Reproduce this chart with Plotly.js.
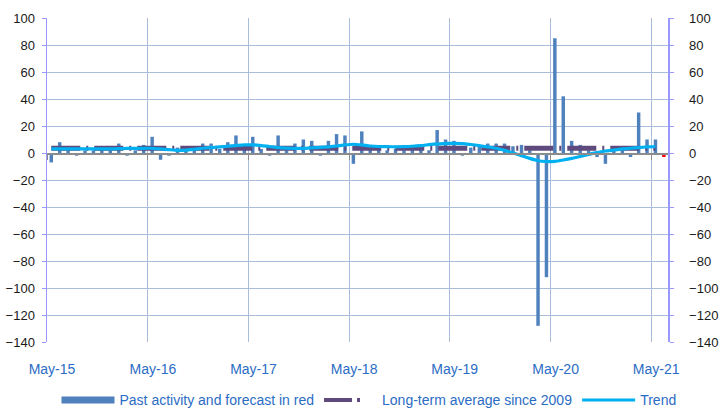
<!DOCTYPE html>
<html>
<head>
<meta charset="utf-8">
<script src="https://cdn.plot.ly/plotly-3.0.1.min.js"></script>
<style>html,body{margin:0;padding:0;background:#fff;}#chart{width:723px;height:410px;}</style>
</head>
<body>
<div id="chart"></div>
<script>
// Monthly series, starting May 2015
const startYear = 2015;
const startMonth = 5;

// Past activity (May-15 .. May-21)
const pastActivity = [
  -7, 8, 2, -2, 2, 2, 3, 2, 7, -2, 2, 6,          // May-15 .. Apr-16
  12, -5, -2, 4, 5, 5, 7, 7, 3, 8, 13, 3,          // May-16 .. Apr-17
  12, 3, -2, 13, 2, 7, 10, 9, -2, 9, 14, 13,       // May-17 .. Apr-18
  -8, 16, 3, 4, 2, 3, 2, 3, 4, 2, 17, 10,          // May-18 .. Apr-19
  9, -2, 4, 5, 7, 7, 7, 5, 6, 2, -128, -92,        // May-19 .. Apr-20
  85, 42, 9, 6, 2, -3, -8, 5, 2, -3, 30, 10,       // May-20 .. Apr-21
  10                                               // May-21
];
// Forecast (Jun-21), drawn in red
const forecastValue = [-3];

// Trend
const trend = [
  3, 3, 3, 3, 3, 3, 3, 3, 3.2, 3.4, 3.5, 3.5,
  3.5, 3, 2.5, 2, 2.2, 2.8, 3.5, 4, 4.5, 5, 5.5, 6,
  6, 5.5, 4.8, 4, 3.6, 3.5, 3.5, 3.8, 4.2, 4.5, 5.2, 6,
  6.5, 6, 5.2, 4.8, 4.7, 4.6, 4.7, 5, 5.5, 6.2, 6.8, 7,
  7.2, 7, 6.3, 5.5, 4.5, 3.5, 2, 0, -2, -4, -5.7, -6.3,
  -6.2, -5.2, -4, -2.5, -1, 0.3, 1.5, 2.2, 3, 3.5, 4, 4.5,
  4.8
];

// Long-term average since 2009
const longTermAverage = 3.6;

const seriesNames = ['Past activity and forecast in red', 'Long-term average since 2009', 'Trend'];

function monthKey(i) {
  const m0 = (startMonth - 1) + i;
  const y = startYear + Math.floor(m0 / 12);
  const m = (m0 % 12) + 1;
  return y + '-' + (m < 10 ? '0' + m : m);
}
const xPast = pastActivity.map((v, i) => monthKey(i));
const xForecast = forecastValue.map((v, i) => monthKey(pastActivity.length + i));
const avgValues = pastActivity.map(() => longTermAverage);

const BLUE = '#4F81BD', PURPLE = '#5F4A7D', TREND = '#00B0F0', RED = '#FF0000';
const DAY = 86400000;
const FONT = 'Liberation Sans, Arial, sans-serif';
const TXTBLUE = '#2B6CC4';

const traces = [
  {type: 'bar', x: xPast, y: pastActivity, xperiod: 'M1', xperiodalignment: 'middle',
   width: 12.5 * DAY, marker: {color: BLUE}, showlegend: false, hoverinfo: 'x+y'},
  {type: 'bar', x: xForecast, y: forecastValue, xperiod: 'M1', xperiodalignment: 'middle',
   yaxis: 'y2', width: 12.5 * DAY, marker: {color: RED}, showlegend: false},
  {type: 'scatter', mode: 'lines', x: xPast, y: avgValues, xperiod: 'M1', xperiodalignment: 'middle',
   xaxis: 'x2', line: {color: PURPLE, width: 5, dash: '29px,6px,2px,6px'}, showlegend: false},
  {type: 'scatter', mode: 'lines', x: xPast, y: trend, xperiod: 'M1', xperiodalignment: 'middle',
   xaxis: 'x2', line: {color: TREND, width: 3.2, shape: 'spline', smoothing: 0.6}, showlegend: false},
  // legend entries
  {type: 'scatter', mode: 'lines', x: [null], y: [null], name: seriesNames[0],
   line: {color: BLUE, width: 7}},
  {type: 'scatter', mode: 'lines', x: [null], y: [null], name: seriesNames[1],
   line: {color: PURPLE, width: 4, dash: '28px,5px,3px,40px'}},
  {type: 'scatter', mode: 'lines', x: [null], y: [null], name: seriesNames[2],
   line: {color: TREND, width: 3}}
];

const GRID = '#A9BDDD', EDGE = '#9999FF';
const xRange = ['2015-05-01', '2021-07-01'];

const layout = {
  width: 723, height: 410,
  margin: {l: 47, r: 55, t: 18, b: 68, autoexpand: false},
  paper_bgcolor: '#fff', plot_bgcolor: '#fff',
  barmode: 'overlay',
  showlegend: true,
  font: {family: FONT},
  xaxis: {type: 'date', range: xRange, tick0: '2015-05-01', dtick: 'M12', tickformat: '%b-%y',
    showgrid: true, gridcolor: GRID, gridwidth: 1, zeroline: false, showline: false,
    ticks: '', ticklabelshift: 5, ticklabelstandoff: 17,
    tickfont: {family: FONT, size: 14, color: TXTBLUE}},
  xaxis2: {type: 'date', range: xRange, overlaying: 'x', anchor: 'free', position: 140 / 240,
    tick0: '2015-05-01', dtick: 'M12', showgrid: false, zeroline: false,
    showline: true, linecolor: '#8C8C8C', linewidth: 1.5,
    ticks: 'outside', ticklen: 5, tickcolor: '#8C8C8C', tickwidth: 1, showticklabels: false},
  yaxis: {range: [-140, 100], dtick: 20, tick0: 0, showgrid: true, gridcolor: GRID, gridwidth: 1,
    zeroline: false, showline: true, linecolor: EDGE, linewidth: 1.5,
    ticks: 'outside', ticklen: 4, tickcolor: EDGE, ticklabelstandoff: 4,
    tickfont: {family: FONT, size: 13, color: '#1a1a1a'}},
  yaxis2: {range: [-140, 100], dtick: 20, tick0: 0, overlaying: 'y', side: 'right', anchor: 'x',
    showgrid: false, zeroline: false, showline: true, linecolor: EDGE, linewidth: 1.5,
    showticklabels: true,
    ticks: 'outside', ticklen: 4, tickcolor: EDGE, ticklabelstandoff: 13,
    tickfont: {family: FONT, size: 13, color: '#1a1a1a'}},
  legend: {orientation: 'h', x: 0.5185, xanchor: 'center', y: -0.18, yanchor: 'middle',
    itemwidth: 53,
    font: {family: FONT, size: 14, color: TXTBLUE}, bgcolor: 'rgba(0,0,0,0)'}
};

Plotly.newPlot('chart', traces, layout, {displayModeBar: false, staticPlot: true});
</script>
</body>
</html>
